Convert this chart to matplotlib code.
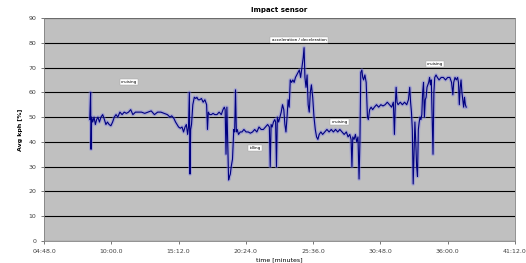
import matplotlib.pyplot as plt

# elapsed time in seconds and speed readings
times = [
    500, 504, 506, 509, 514, 520, 526, 532, 538, 545,
    552, 560, 568, 575, 582, 590, 598, 606, 614, 622,
    630, 640, 650, 660, 670, 680, 690, 700, 712, 725,
    740, 755, 770, 785, 800, 815, 830, 845, 860, 872,
    880, 890, 898, 905, 912, 920, 928, 935, 942, 948,
    954, 958, 962, 965, 968, 972, 978, 985, 992, 997,
    1003, 1010, 1018, 1026, 1034, 1042, 1046, 1050, 1056, 1064,
    1072, 1080, 1090, 1100, 1110, 1118, 1124, 1128, 1132, 1136,
    1140, 1144, 1148, 1152, 1156, 1162, 1168, 1172, 1176, 1180,
    1184, 1190, 1198, 1206, 1215, 1225, 1235, 1245, 1255, 1265,
    1275, 1285, 1295, 1305, 1315, 1325, 1333, 1337, 1341, 1346,
    1352, 1358, 1362, 1366, 1370, 1376, 1382, 1388, 1394, 1400,
    1405, 1410, 1415, 1420, 1425, 1430, 1436, 1442, 1448, 1454,
    1460, 1466, 1472, 1478, 1484, 1490, 1494, 1498, 1503, 1508,
    1513, 1518, 1523, 1528, 1534, 1540, 1546, 1552, 1558, 1564,
    1572, 1580, 1590, 1600, 1610, 1620, 1630, 1640, 1650, 1660,
    1670, 1680, 1690, 1698, 1706, 1712, 1716, 1720, 1726, 1732,
    1738, 1744, 1749, 1753, 1757, 1762, 1766, 1770, 1776, 1782,
    1788, 1792, 1798, 1805, 1812, 1820, 1830, 1840, 1850, 1860,
    1870, 1880, 1890, 1900, 1908, 1913, 1917, 1921, 1925, 1930,
    1940, 1950, 1960, 1970, 1978, 1984, 1988, 1992, 1996, 2000,
    2004, 2008, 2012, 2016, 2020, 2024, 2028, 2032, 2036, 2040,
    2044, 2048, 2052, 2056, 2060, 2064, 2068, 2072, 2076, 2080,
    2084, 2088, 2092, 2096, 2100, 2106, 2112, 2120, 2130, 2140,
    2150, 2160, 2170, 2178, 2184, 2188, 2194, 2200, 2206, 2210,
    2214, 2218, 2222, 2226, 2230, 2234, 2238, 2242, 2246,
]
speed = [
    49, 60, 37, 50, 48, 50, 47, 49, 50, 48,
    50, 51, 49, 47, 48, 47, 46.5, 48, 50, 51,
    50, 52, 51, 52, 51.5, 52, 53, 51, 52, 52,
    52, 51.5, 52, 52.5, 51, 52, 52, 51.5, 51, 50,
    50.5, 49.5, 48, 47, 46, 45.5, 46, 44, 46, 47,
    43, 46, 60, 27, 45, 47, 55, 58, 57.5, 58,
    57, 57, 57.5, 56, 57, 55, 45, 52, 51, 51,
    51.5, 51, 51, 52, 51, 53, 54, 53, 35, 54,
    40, 24.6, 26, 27, 30, 33, 45, 44, 61, 44,
    45, 43, 44, 44, 45, 44, 44, 43.5, 44, 45,
    44, 46, 45, 45, 46, 47, 46, 30, 47, 46,
    48, 49, 48, 30, 50, 48, 50, 52, 55, 53,
    47, 44, 50, 57, 54, 65, 64, 65, 64, 66,
    67, 68, 69, 66, 70, 74, 78, 66, 62, 67,
    55, 52, 60, 63, 58, 50, 45, 42, 41, 43,
    44, 43, 44, 45, 44, 45, 44, 45, 44, 45,
    44, 43, 44, 42, 43, 41, 30, 42, 41, 43,
    40, 42, 25, 40, 68, 69, 66, 65, 67, 64,
    50, 49, 53, 54, 53, 54, 55, 54, 55, 54.5,
    55, 56, 55, 54, 56, 43, 55, 62, 56, 55,
    56, 55, 56, 55, 57, 62, 56, 52, 45, 23,
    35, 48, 40, 30, 26, 45, 48, 50, 49, 51,
    60, 64, 50, 57, 58, 62, 63, 64, 66, 63,
    65, 50, 35, 60, 66, 67, 66, 65, 66, 66,
    65, 66, 66, 64, 59, 64, 66, 65, 66, 64,
    55, 62, 65, 60, 57, 54, 58, 55, 54,
]

tick_seconds = [288, 600, 912, 1224, 1536, 1848, 2160, 2472]
tick_labels = ["04:48.0", "10:00.0", "15:12.0", "20:24.0",
               "25:36.0", "30:48.0", "36:00.0", "41:12.0"]
y_ticks = [0, 10, 20, 30, 40, 50, 60, 70, 80, 90]

notes = ["cruising", "acceleration / deceleration", "idling", "cruising", "cruising"]
note_t = [682, 1470, 1266, 1660, 2101]
note_v = [64.2, 81.1, 37.5, 48, 71.4]

fig = plt.figure(figsize=(5.26, 2.63), dpi=100)
ax = fig.add_axes([0.0837, 0.0837, 0.8953, 0.848])
ax.set_facecolor("#c0c0c0")

ax.plot(times, speed, color="#8080e0", lw=2.6, alpha=0.45, zorder=2)
ax.plot(times, speed, color="#000080", lw=0.8, zorder=3)

ax.set_xlim(tick_seconds[0], tick_seconds[-1])
ax.set_ylim(0, 90)
ax.set_xticks(tick_seconds)
ax.set_xticklabels(tick_labels)
ax.set_yticks(y_ticks)
ax.yaxis.grid(True, color="black", lw=0.8)
ax.set_axisbelow(True)
ax.tick_params(labelsize=4.5, length=2, width=0.5, colors="#404040")
for s in ax.spines.values():
    s.set_color("#808080")
    s.set_linewidth(0.6)

for txt, t, v in zip(notes, note_t, note_v):
    ax.text(t, v, txt, fontsize=3, ha="center", va="center", zorder=4,
            bbox=dict(boxstyle="square,pad=0.3", fc="white", ec="#a0a0a0", lw=0.3))

ax.set_title("Impact sensor", fontsize=5, fontweight="bold", pad=4)
ax.set_xlabel("time [minutes]", fontsize=4.5, labelpad=3)
ax.set_ylabel("Avg kph [%]", fontsize=4.5, fontweight="bold", labelpad=4)

fig.savefig("out.png", dpi=100)
